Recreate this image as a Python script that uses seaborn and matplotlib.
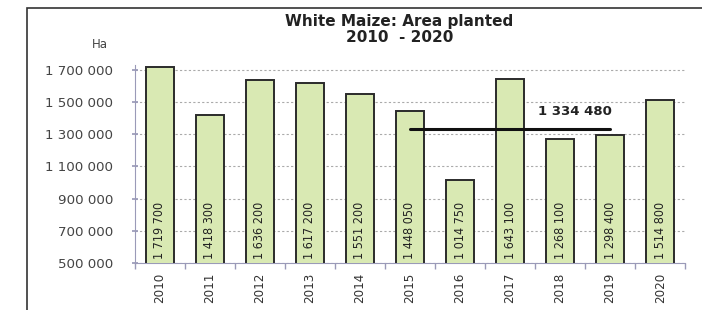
import matplotlib
matplotlib.use("Agg")
import matplotlib.pyplot as plt
import seaborn as sns
import pandas as pd
from matplotlib.patches import Rectangle

years = ["2010", "2011", "2012", "2013", "2014", "2015", "2016", "2017", "2018", "2019", "2020"]
area = [1719700, 1418300, 1636200, 1617200, 1551200, 1448050, 1014750, 1643100, 1268100, 1298400, 1514800]
avg_value = 1334480
avg_years = ["2015", "2019"]
yticks = [500000, 700000, 900000, 1100000, 1300000, 1500000, 1700000]

def fmt(v):
    return f"{v:,}".replace(",", " ")

sns.set_theme(style="white")
plt.rcParams["font.family"] = ["DejaVu Sans"]

fig = plt.figure(figsize=(7.02, 3.10), dpi=100)
ax = fig.add_axes([0.192, 0.152, 0.784, 0.638])

df = pd.DataFrame({"year": years, "area": area})
sns.barplot(data=df, x="year", y="area", color="#d9e9b3", width=0.57,
            edgecolor="#2b2b2b", linewidth=1.4, saturation=1, ax=ax, zorder=3)

ax.set_ylim(500000, 1731000)
ax.set_xlim(-0.5, len(years) - 0.5)
ax.set_yticks(yticks)
ax.set_yticklabels([fmt(v) for v in yticks], fontsize=9.6, color="#444444")
ax.set_xticks(range(len(years)))
ax.set_xticklabels(years, rotation=90, fontsize=9.5, color="#333333",
                   fontstretch="condensed")
ax.set_xlabel("")
ax.set_ylabel("")
ax.yaxis.grid(True, linestyle=(0, (2, 2)), color="#aaaaaa", linewidth=0.8, zorder=0)
ax.xaxis.grid(False)
for s in ["top", "right"]:
    ax.spines[s].set_visible(False)
for s in ["left", "bottom"]:
    ax.spines[s].set_color("#9a9ab8")
    ax.spines[s].set_linewidth(0.8)
ax.tick_params(axis="y", which="both", left=True, length=5, direction="inout",
               color="#9a9ab8", pad=13)
ax.tick_params(axis="x", which="both", bottom=False, pad=1)
# minor ticks between categories on x axis
ax.set_xticks([i + 0.5 for i in range(-1, len(years))], minor=True)
ax.tick_params(axis="x", which="minor", bottom=True, length=4, color="#9a9ab8")

# value labels inside bars
for i, v in enumerate(area):
    ax.text(i, 522000, fmt(v), rotation=90, ha="center", va="bottom",
            fontsize=9, color="#222222", zorder=5, fontstretch="condensed")

# average line
x0 = years.index(avg_years[0])
x1 = years.index(avg_years[1])
ax.plot([x0, x1], [avg_value, avg_value], color="#111111", linewidth=2.2, zorder=6)
ax.text(8.3, avg_value + 110000, fmt(avg_value), ha="center", va="center",
        fontsize=9.5, fontweight="bold", color="#222222", zorder=6)

fig.text(0.569, 0.905, "White Maize: Area planted\n2010  - 2020", ha="center",
         va="center", fontsize=11, fontweight="bold", color="#222222", linespacing=1.15)
fig.text(0.142, 0.855, "Ha", ha="center", va="center", fontsize=8.5, color="#444444")

# outer frame
fig.patches.append(Rectangle((27 / 702, -0.05), 0.99, 1 - 8 / 310 + 0.05,
                             transform=fig.transFigure, fill=False,
                             edgecolor="#333333", linewidth=1.2))

fig.savefig("out.png", dpi=100)
